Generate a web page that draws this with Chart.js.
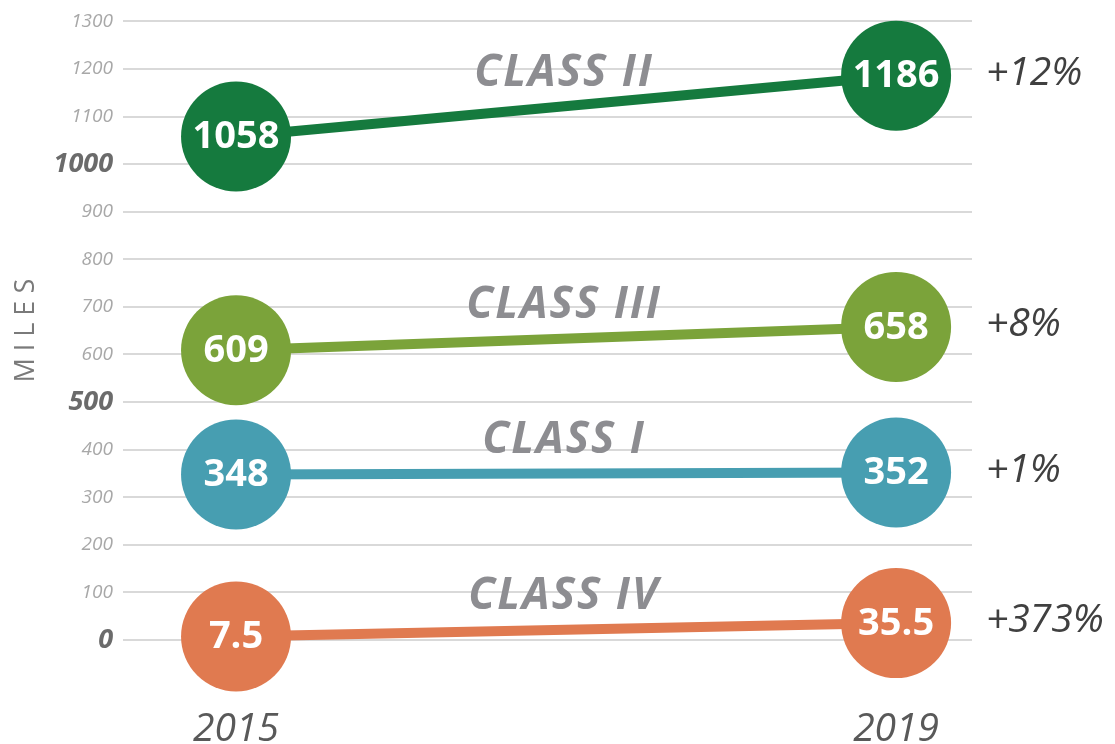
<!DOCTYPE html>
<html>
<head>
<meta charset="utf-8">
<script src="https://cdn.jsdelivr.net/npm/chart.js@4.4.1/dist/chart.umd.min.js"></script>
<style>
  html, body { margin: 0; padding: 0; background: #fff; }
  #wrap { width: 1115px; height: 744px; }
</style>
</head>
<body>
<div id="wrap"><canvas id="milesChart" width="1115" height="744"></canvas></div>
<script>
// --- Miles by class, 2015 vs 2019 ---
const years = [2015, 2019];
const classNames = ['CLASS II', 'CLASS III', 'CLASS I', 'CLASS IV'];
const miles2015 = [1058, 609, 348, 7.5];
const miles2019 = [1186, 658, 352, 35.5];
const changeLabels = ['+12%', '+8%', '+1%', '+373%'];
const classColors = ['#157A3E', '#7BA33A', '#479EB1', '#E07A50'];
const yTicks = [0, 100, 200, 300, 400, 500, 600, 700, 800, 900, 1000, 1100, 1200, 1300];
const boldTicks = [0, 500, 1000];

const FONT = "'Open Sans', 'DejaVu Sans', sans-serif";

const isBold = (c) => !!(c && c.tick && boldTicks.includes(c.tick.value));

const datasets = classNames.map((name, i) => ({
    label: name,
    data: [
        { x: years[0], y: miles2015[i] },
        { x: years[1], y: miles2019[i] }
    ],
    borderColor: classColors[i],
    backgroundColor: classColors[i],
    pointBackgroundColor: classColors[i],
    pointBorderWidth: 0,
    pointRadius: 55,
    pointHoverRadius: 55,
    borderWidth: 10,
    clip: false
}));

// Labels: numbers in the circles, class names over the lines, change on the right
const labelPlugin = {
    id: 'labels',
    afterDatasetsDraw(chart) {
        const ctx = chart.ctx;
        ctx.save();
        ctx.textBaseline = 'middle';

        chart.data.datasets.forEach((ds, i) => {
            const meta = chart.getDatasetMeta(i);
            // value in circles
            ctx.fillStyle = '#ffffff';
            ctx.textAlign = 'center';
            ctx.font = `bold 38px ${FONT}`;
            meta.data.forEach((pt, j) => {
                const v = j === 0 ? miles2015[i] : miles2019[i];
                ctx.fillText(String(v), pt.x, pt.y + 1);
            });

            // class name above line middle
            const mx = (meta.data[0].x + meta.data[1].x) / 2 - 2;
            const my = (meta.data[0].y + meta.data[1].y) / 2 - 33;
            ctx.font = `italic bold 44px ${FONT}`;
            ctx.letterSpacing = '2px';
            ctx.fillStyle = '#8D8D91';
            ctx.fillText(classNames[i], mx, my);
            ctx.letterSpacing = '0px';

            // change label
            ctx.textAlign = 'left';
            ctx.font = `italic 39px ${FONT}`;
            ctx.fillStyle = '#404040';
            ctx.fillText(changeLabels[i], chart.chartArea.right + 14, meta.data[1].y - 2);
        });
        ctx.restore();
    }
};

new Chart(document.getElementById('milesChart'), {
    type: 'line',
    data: { datasets },
    options: {
        responsive: false,
        animation: false,
        events: [],
        layout: { autoPadding: false, padding: { left: 0, right: 143, top: 20, bottom: 0 } },
        plugins: {
            legend: { display: false },
            tooltip: { enabled: false }
        },
        scales: {
            x: {
                type: 'linear',
                min: 2014.315,
                max: 2019.46,
                afterBuildTicks: (scale) => { scale.ticks = years.map(v => ({ value: v })); },
                afterFit: (scale) => { scale.height = 104; },
                grid: { display: false },
                border: { display: false },
                ticks: {
                    padding: 58,
                    color: '#595959',
                    font: { family: FONT, size: 39, style: 'italic' },
                    callback: (v) => String(v)
                }
            },
            y: {
                type: 'linear',
                min: 0,
                max: 1300,
                afterBuildTicks: (scale) => { scale.ticks = yTicks.map(v => ({ value: v })); },
                afterFit: (scale) => { scale.width = 123; },
                grid: { color: '#D9D9D9', lineWidth: 2, drawTicks: false },
                border: { display: false },
                title: {
                    display: true,
                    text: 'M I L E S',
                    color: '#7A7A7A',
                    font: { family: FONT, size: 27 },
                    padding: { top: 10, bottom: 0 }
                },
                ticks: {
                    padding: 10,
                    color: (c) => isBold(c) ? '#6B6B6B' : '#A8A8A8',
                    font: (c) => isBold(c)
                        ? { family: FONT, size: 27, style: 'italic', weight: 'bold' }
                        : { family: FONT, size: 19, style: 'italic' },
                    callback: (v) => String(v)
                }
            }
        }
    },
    plugins: [labelPlugin]
});
</script>
</body>
</html>
